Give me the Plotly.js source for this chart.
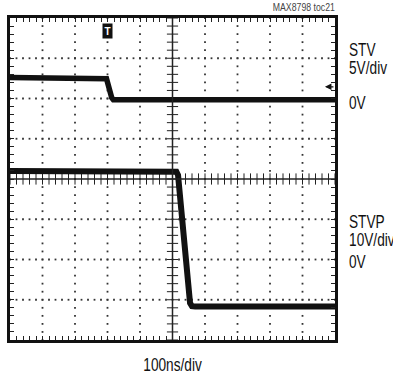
<!DOCTYPE html>
<html>
<head>
<meta charset="utf-8">
<script src="https://cdn.plot.ly/plotly-3.0.1.min.js"></script>
<style>
  html, body { margin: 0; padding: 0; background: #fff; }
  #scope { width: 393px; height: 373px; }
</style>
</head>
<body>
<div id="scope"></div>
<script>
// Scope capture: STV (5V/div) and STVP (10V/div), 100ns/div time base.
// Time in ns, levels in volts.
const stvTime  = [0, 292, 297, 313, 318, 1000];
const stvVolts = [2.6, 2.6, 2.45, 0.1, -0.15, -0.15];

const stvpTime  = [0, 505, 512, 517, 554, 560, 570, 1000];
const stvpVolts = [22, 22, 21.8, 21, -10.8, -11.6, -11.7, -11.7];

// Screen: 10 horizontal divisions x 8 vertical divisions
const timePerDiv = 100;     // ns
const hDivs = 10;
const vDivs = 8;
const minorPerDiv = 5;

const FONT = '"Liberation Sans", Arial, sans-serif';
const NARROW = 0.76;        // horizontal squeeze for the condensed lettering

// Dotted graticule: dots every 1/5 division along each grid line
const dotX = [], dotY = [];
for (let j = -vDivs / 2 + 1; j < vDivs / 2; j++) {
  if (j === 0) continue;
  for (let k = 0; k <= hDivs * minorPerDiv; k++) {
    dotX.push(k * timePerDiv / minorPerDiv);
    dotY.push(j);
  }
}
for (let i = 1; i < hDivs; i++) {
  if (i === hDivs / 2) continue;
  for (let k = 0; k <= vDivs * minorPerDiv; k++) {
    dotX.push(i * timePerDiv);
    dotY.push(-vDivs / 2 + k / minorPerDiv);
  }
}

// Center cross ticks
const midT = hDivs / 2 * timePerDiv;
const hTickX = [], hTickY = [];
for (let k = 0; k <= hDivs * minorPerDiv; k++) {
  hTickX.push(k * timePerDiv / minorPerDiv);
  hTickY.push(0);
}
const vTickX = [], vTickY = [];
for (let k = 0; k <= vDivs * minorPerDiv; k++) {
  vTickX.push(midT);
  vTickY.push(-vDivs / 2 + k / minorPerDiv);
}

const traces = [
  {
    x: dotX, y: dotY, xaxis: 'x', yaxis: 'y',
    mode: 'markers', type: 'scatter', hoverinfo: 'skip',
    marker: { symbol: 'square', size: 1.8, color: '#333' }
  },
  {
    x: hTickX, y: hTickY, xaxis: 'x', yaxis: 'y',
    mode: 'markers', type: 'scatter', hoverinfo: 'skip',
    marker: { symbol: 'line-ns', size: 8, line: { width: 1, color: '#222' } }
  },
  {
    x: vTickX, y: vTickY, xaxis: 'x', yaxis: 'y',
    mode: 'markers', type: 'scatter', hoverinfo: 'skip',
    marker: { symbol: 'line-ew', size: 8, line: { width: 1, color: '#222' } }
  },
  {
    name: 'STV', x: stvTime, y: stvVolts, xaxis: 'x', yaxis: 'y2',
    mode: 'lines', type: 'scatter',
    line: { color: '#111', width: 5.5 }
  },
  {
    name: 'STVP', x: stvpTime, y: stvpVolts, xaxis: 'x', yaxis: 'y3',
    mode: 'lines', type: 'scatter',
    line: { color: '#111', width: 6 }
  }
];

const axisCommon = {
  showgrid: false, zeroline: false, showticklabels: false,
  showline: true, linecolor: '#111', linewidth: 3, mirror: 'ticks',
  ticks: 'inside', ticklen: 4, tickwidth: 1, tickcolor: '#222',
  fixedrange: true
};

const label = (text, x, y, size, anchor, color) => ({
  text: text, xref: 'paper', yref: 'paper', x: x, y: y,
  xanchor: anchor || 'left', yanchor: 'middle', showarrow: false,
  font: { family: FONT, size: size, color: color || '#111' }
});

const annotations = [
  label('MAX8798 toc21', 1.006, 1.034, 11.5, 'right', '#444'),
  label('STV', 1.037, 0.9006, 18),
  label('5V/div', 1.037, 0.8447, 18),
  label('0V', 1.037, 0.736, 18),
  label('STVP', 1.037, 0.3665, 18),
  label('10V/div', 1.037, 0.3106, 18),
  label('0V', 1.037, 0.2422, 18),
  label('100ns/div', 0.5, -0.078, 18, 'center'),
  // trigger position marker
  {
    text: '<b>T</b>', xref: 'x', yref: 'y', x: 300, y: 3.68,
    showarrow: false, bgcolor: '#111', borderpad: 1.5,
    font: { family: FONT, size: 10, color: '#fff' }
  },
  // STV ground reference marker
  {
    text: '', xref: 'x', yref: 'y', x: 969, y: 2.29,
    showarrow: true, ax: 10, ay: 0, arrowhead: 2, arrowsize: 1,
    arrowwidth: 1.3, arrowcolor: '#111'
  }
];
const condensedCount = 8;   // the first eight annotations use narrow lettering

const layout = {
  width: 393, height: 373,
  margin: { l: 10, r: 58, t: 18, b: 33 },
  paper_bgcolor: '#fff', plot_bgcolor: '#fff',
  showlegend: false,
  xaxis: Object.assign({}, axisCommon, {
    range: [0, hDivs * timePerDiv], dtick: timePerDiv,
    minor: { dtick: timePerDiv / minorPerDiv, ticks: 'inside', ticklen: 4, tickcolor: '#222', showgrid: false }
  }),
  yaxis: Object.assign({}, axisCommon, {
    range: [-vDivs / 2, vDivs / 2], dtick: 1,
    minor: { dtick: 1 / minorPerDiv, ticks: 'inside', ticklen: 4, tickcolor: '#222', showgrid: false }
  }),
  // STV: 5V/div, 0V two divisions above center
  yaxis2: { overlaying: 'y', range: [-30, 10], visible: false, fixedrange: true },
  // STVP: 10V/div, 0V two divisions below center
  yaxis3: { overlaying: 'y', range: [-20, 60], visible: false, fixedrange: true },
  shapes: [
    { type: 'line', xref: 'x', yref: 'y', x0: 0, x1: hDivs * timePerDiv, y0: 0, y1: 0,
      line: { color: '#222', width: 1.5 } },
    { type: 'line', xref: 'x', yref: 'y', x0: midT, x1: midT, y0: -vDivs / 2, y1: vDivs / 2,
      line: { color: '#222', width: 1.5 } }
  ],
  annotations: annotations
};

// Squeeze the label lettering horizontally, keeping each label's anchor edge fixed
function condenseLabels() {
  document.querySelectorAll('#scope .annotation').forEach(g => {
    const i = +g.getAttribute('data-index');
    if (!(i < condensedCount)) return;
    const t = g.querySelector('text.annotation-text');
    if (!t) return;
    const anchor = annotations[i].xanchor;
    t.style.transformBox = 'fill-box';
    t.style.transformOrigin = anchor === 'left' ? 'left center'
      : anchor === 'right' ? 'right center' : 'center center';
    t.style.transform = 'scaleX(' + NARROW + ')';
  });
}

Plotly.newPlot('scope', traces, layout, { displayModeBar: false, staticPlot: true })
  .then(condenseLabels);
</script>
</body>
</html>
